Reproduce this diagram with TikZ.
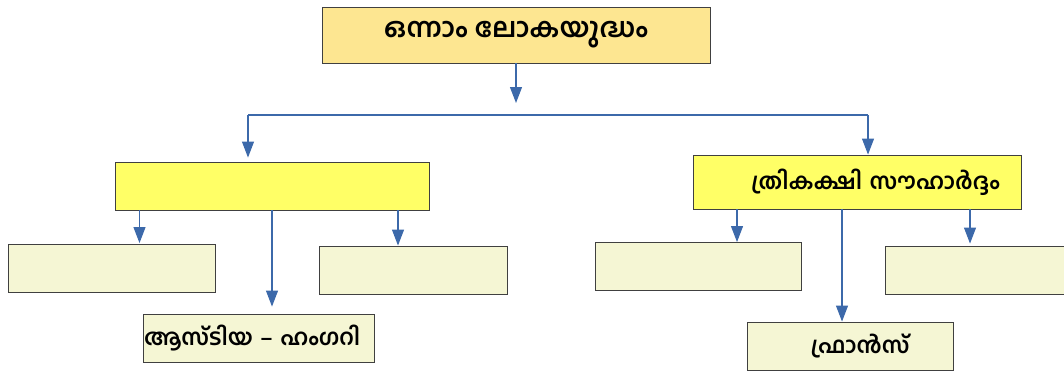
\documentclass[tikz,border=0pt]{standalone}
\usepackage{fontspec}
\newfontfamily\mlfont[Script=Malayalam]{Hind Kochi}
\usetikzlibrary{positioning, calc, arrows.meta}

\definecolor{topfill}{RGB}{253,230,145}
\definecolor{midfill}{RGB}{255,255,102}
\definecolor{leaffill}{RGB}{245,246,212}
\definecolor{linkblue}{RGB}{60,105,170}

\tikzset{
    box/.style={draw=black!75, line width=0.9pt, rectangle, inner sep=0pt, font=\mlfont\bfseries\fontsize{22.5}{26}\selectfont},
    leaf/.style={box, fill=leaffill, minimum width=#1, minimum height=48pt},
    link/.style={draw=linkblue, line width=1.1pt},
    arrow/.style={link, -{Triangle[width=12pt,length=16pt]}}
}

\begin{document}
\begin{tikzpicture}[x=1pt, y=-1pt]
        \useasboundingbox (0,0) rectangle (1064,372);

        \node (war) [box, fill=topfill, minimum width=388pt, minimum height=56pt, font=\mlfont\bfseries\fontsize{27}{30}\selectfont] at (516,35) {ഒന്നാം ലോകയുദ്ധം}; % top box
        \node (central) [box, fill=midfill, minimum width=314pt, minimum height=48pt] at (272,186) {}; % left group, empty
        \node (entente) [box, fill=midfill, minimum height=54pt, text width=286pt, inner xsep=21pt, align=right] at (857,182) {ത്രികക്ഷി സൗഹാർദ്ദം}; % right group

        % Left group members
        \node (c1) [leaf=207pt] at (111.5,268.5) {};
        \node (c2) [leaf=188pt] at (413,270) {};
        \node (austria) [leaf=231pt, text width=229pt, inner xsep=1pt, align=left] at (258.5,338) {ആസ്ടിയ – ഹംഗറി};

        % Right group members
        \node (e1) [leaf=206pt] at (698,266.5) {};
        \node (e2) [leaf=190pt] at (980,270) {};
        \node (france) [leaf=206pt, text width=206pt, align=center] at (850,346) {\hspace*{20pt}ഫ്രാൻസ്\par\vspace*{6pt}};

        % Splitting bar
        \coordinate (drop) at (516,103);
        \coordinate (barL) at (248,115);
        \coordinate (barR) at (868,115);

        \draw[arrow] (war.south) -- (drop);
        \draw[link] (barL) -- (barR);
        \draw[arrow, shorten >=4pt] (barL) -- (central.north -| barL);
        \draw[arrow] (barR) -- (entente.north -| barR);

        % Arrows down to the members
        \draw[arrow, shorten >=1pt] (central.south -| c1.north) ++(28pt,0) coordinate (s1) -- (s1 |- c1.north);
        \draw[arrow, shorten >=7pt] (central.south -| austria.north) ++(13.5pt,0) coordinate (s2) -- (s2 |- austria.north);
        \draw[arrow] (central.south -| c2.north) ++(-15pt,0) coordinate (s3) -- (s3 |- c2.north);

        \draw[arrow] (entente.south -| e1.north) ++(39pt,0) coordinate (t1) -- (t1 |- e1.north);
        \draw[arrow] (entente.south -| france.north) ++(-8pt,0) coordinate (t2) -- (t2 |- france.north);
        \draw[arrow, shorten >=2pt] (entente.south -| e2.north) ++(-10pt,0) coordinate (t3) -- (t3 |- e2.north);
\end{tikzpicture}
\end{document}
